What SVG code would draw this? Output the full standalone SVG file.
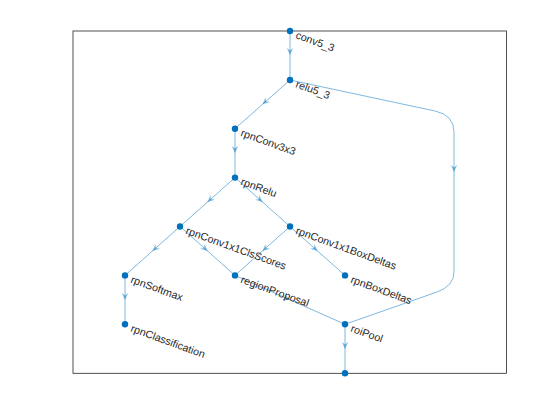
<svg xmlns="http://www.w3.org/2000/svg" xmlns:xlink="http://www.w3.org/1999/xlink" width="560" height="420" viewBox="0 0 560 420">
<style>
.edge{fill:none;stroke:#0072BD;stroke-opacity:0.5;stroke-width:1}
.node{fill:#0072BD}
.lbl{font-family:"Liberation Sans",Arial,sans-serif;font-size:10.67px;fill:#262626}
.ah{fill:#0072BD;fill-opacity:0.5}
</style>
<defs>
<path id="ah" class="ah" d="M0,0 L-7,-3.2 L-4.5,0 L-7,3.2 Z"/>
</defs>
<rect width="560" height="420" fill="#ffffff"/>
<rect x="73" y="31" width="433.5" height="342.3" fill="none" stroke="#262626" stroke-width="0.8"/>
<g id="connectors">
<path class="edge" d="M290,31 L290,80"/>
<path class="edge" d="M290,80 L235,128.7"/>
<path class="edge" d="M290,80 L435,111 Q454,115 454,132 L454,272 Q454,286 437,292 L345,324.3"/>
<path class="edge" d="M235,128.7 L235,177.6"/>
<path class="edge" d="M235,177.6 L180,226.5"/>
<path class="edge" d="M235,177.6 L290,226.5"/>
<path class="edge" d="M180,226.5 L125,275.4"/>
<path class="edge" d="M180,226.5 L235,275.4"/>
<path class="edge" d="M290,226.5 L235,275.4"/>
<path class="edge" d="M290,226.5 L345,275.4"/>
<path class="edge" d="M125,275.4 L125,324.3"/>
<path class="edge" d="M235,275.4 L345,324.3"/>
<path class="edge" d="M345,324.3 L345,373.3"/>
<use xlink:href="#ah" transform="translate(290,55) rotate(90)"/>
<use xlink:href="#ah" transform="translate(262.5,104.3) rotate(138.4)"/>
<use xlink:href="#ah" transform="translate(454,172) rotate(90)"/>
<use xlink:href="#ah" transform="translate(235,153) rotate(90)"/>
<use xlink:href="#ah" transform="translate(207.5,202) rotate(138.4)"/>
<use xlink:href="#ah" transform="translate(262.5,202) rotate(41.6)"/>
<use xlink:href="#ah" transform="translate(152.5,251) rotate(138.4)"/>
<use xlink:href="#ah" transform="translate(207.5,251) rotate(41.6)"/>
<use xlink:href="#ah" transform="translate(262.5,251) rotate(138.4)"/>
<use xlink:href="#ah" transform="translate(317.5,251) rotate(41.6)"/>
<use xlink:href="#ah" transform="translate(125,300) rotate(90)"/>
<use xlink:href="#ah" transform="translate(290,299.9) rotate(24)"/>
<use xlink:href="#ah" transform="translate(345,349) rotate(90)"/>
</g>
<g id="n_conv5_3"><circle class="node" cx="290" cy="31" r="3.2"/><text class="lbl" x="295" y="38" transform="rotate(20 295 38)">conv5_3</text></g>
<g id="n_relu5_3"><circle class="node" cx="290" cy="80" r="3.2"/><text class="lbl" x="295" y="87" transform="rotate(20 295 87)">relu5_3</text></g>
<g id="n_rpnConv3x3"><circle class="node" cx="235" cy="128.7" r="3.2"/><text class="lbl" x="240" y="135.7" transform="rotate(20 240 135.7)">rpnConv3x3</text></g>
<g id="n_rpnRelu"><circle class="node" cx="235" cy="177.6" r="3.2"/><text class="lbl" x="240" y="184.6" transform="rotate(20 240 184.6)">rpnRelu</text></g>
<g id="n_rpnConv1x1ClsScores"><circle class="node" cx="180" cy="226.5" r="3.2"/><text class="lbl" x="185" y="233.5" transform="rotate(20 185 233.5)">rpnConv1x1ClsScores</text></g>
<g id="n_rpnConv1x1BoxDeltas"><circle class="node" cx="290" cy="226.5" r="3.2"/><text class="lbl" x="295" y="233.5" transform="rotate(20 295 233.5)">rpnConv1x1BoxDeltas</text></g>
<g id="n_rpnSoftmax"><circle class="node" cx="125" cy="275.4" r="3.2"/><text class="lbl" x="130" y="282.4" transform="rotate(20 130 282.4)">rpnSoftmax</text></g>
<g id="n_regionProposal"><circle class="node" cx="235" cy="275.4" r="3.2"/><text class="lbl" x="240" y="282.4" transform="rotate(20 240 282.4)">regionProposal</text></g>
<g id="n_rpnBoxDeltas"><circle class="node" cx="345" cy="275.4" r="3.2"/><text class="lbl" x="350" y="282.4" transform="rotate(20 350 282.4)">rpnBoxDeltas</text></g>
<g id="n_rpnClassification"><circle class="node" cx="125" cy="324.3" r="3.2"/><text class="lbl" x="130" y="331.3" transform="rotate(20 130 331.3)">rpnClassification</text></g>
<g id="n_roiPool"><circle class="node" cx="345" cy="324.3" r="3.2"/><text class="lbl" x="350" y="331.3" transform="rotate(20 350 331.3)">roiPool</text></g>
<g id="n_output"><circle class="node" cx="345" cy="373.3" r="3.2"/></g>
</svg>
